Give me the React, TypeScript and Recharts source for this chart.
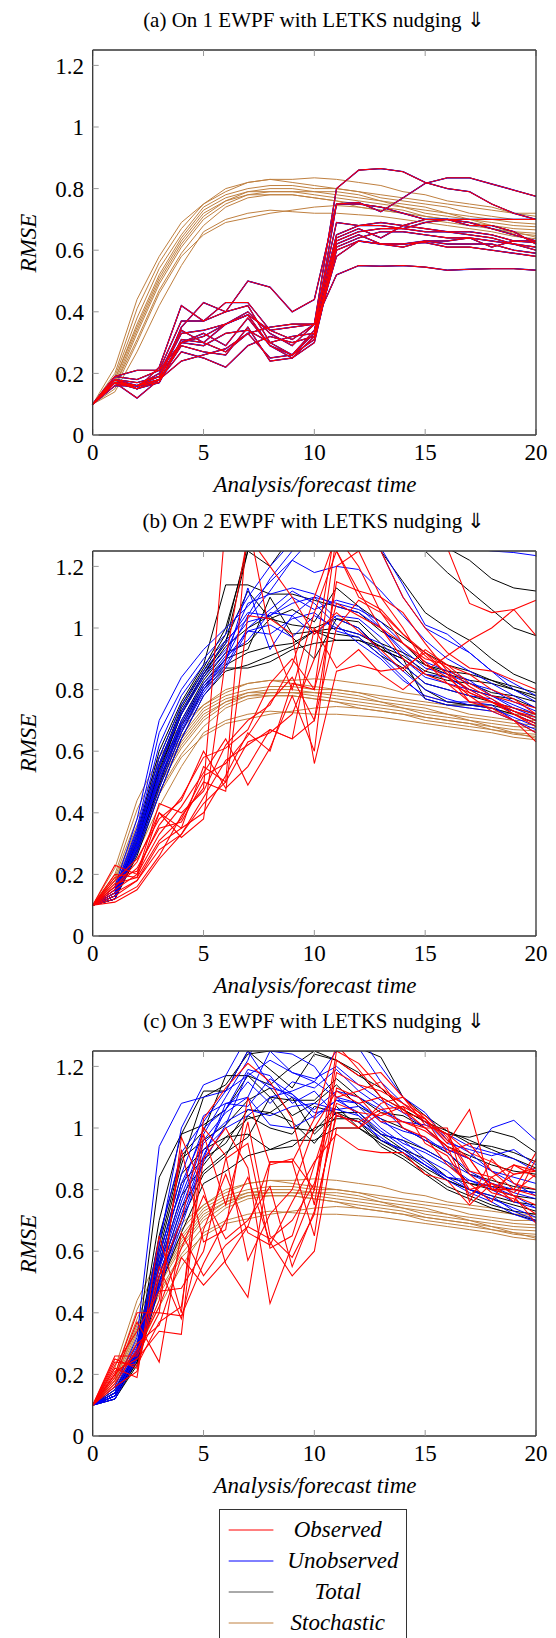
import React from 'react';
import { LineChart, Line, XAxis, YAxis } from 'recharts';

// analysis/forecast steps and axis ticks
const steps = [0, 1, 2, 3, 4, 5, 6, 7, 8, 9, 10, 11, 12, 13, 14, 15, 16, 17, 18, 19, 20];
const xTicks = [0, 5, 10, 15, 20];
const yTicks = [0, 0.2, 0.4, 0.6, 0.8, 1, 1.2];

// stochastic runs (same in every panel)
const stochastic = [
  [0.10, 0.22, 0.44, 0.58, 0.69, 0.75, 0.80, 0.82, 0.83, 0.82, 0.81, 0.80, 0.79, 0.78, 0.77, 0.76, 0.75, 0.74, 0.73, 0.72, 0.72],
  [0.10, 0.20, 0.41, 0.56, 0.67, 0.75, 0.79, 0.82, 0.83, 0.83, 0.835, 0.83, 0.82, 0.81, 0.79, 0.78, 0.76, 0.75, 0.74, 0.72, 0.71],
  [0.10, 0.19, 0.38, 0.54, 0.65, 0.74, 0.78, 0.80, 0.81, 0.81, 0.80, 0.80, 0.79, 0.77, 0.76, 0.75, 0.74, 0.72, 0.71, 0.70, 0.70],
  [0.10, 0.18, 0.36, 0.52, 0.64, 0.73, 0.77, 0.79, 0.80, 0.80, 0.79, 0.79, 0.78, 0.76, 0.75, 0.74, 0.72, 0.71, 0.70, 0.69, 0.685],
  [0.10, 0.18, 0.35, 0.51, 0.63, 0.72, 0.76, 0.79, 0.79, 0.79, 0.79, 0.78, 0.77, 0.76, 0.74, 0.73, 0.72, 0.70, 0.69, 0.68, 0.676],
  [0.10, 0.17, 0.34, 0.50, 0.62, 0.71, 0.76, 0.78, 0.79, 0.79, 0.78, 0.77, 0.76, 0.75, 0.74, 0.72, 0.71, 0.70, 0.68, 0.67, 0.666],
  [0.10, 0.16, 0.33, 0.49, 0.61, 0.70, 0.75, 0.78, 0.78, 0.78, 0.77, 0.76, 0.75, 0.74, 0.73, 0.71, 0.70, 0.69, 0.67, 0.66, 0.655],
  [0.10, 0.16, 0.31, 0.47, 0.59, 0.68, 0.74, 0.77, 0.78, 0.78, 0.77, 0.76, 0.74, 0.73, 0.72, 0.70, 0.69, 0.68, 0.67, 0.655, 0.648],
  [0.10, 0.15, 0.30, 0.46, 0.58, 0.65, 0.69, 0.705, 0.72, 0.73, 0.74, 0.745, 0.74, 0.73, 0.72, 0.71, 0.70, 0.69, 0.68, 0.66, 0.642],
  [0.10, 0.14, 0.27, 0.42, 0.55, 0.66, 0.70, 0.72, 0.73, 0.725, 0.72, 0.72, 0.715, 0.71, 0.70, 0.69, 0.68, 0.67, 0.66, 0.645, 0.637],
];

// (a) observed / unobserved / total coincide
const errA = [
  [0.10, 0.18, 0.15, 0.22, 0.42, 0.37, 0.43, 0.43, 0.34, 0.31, 0.36, 0.80, 0.86, 0.865, 0.855, 0.82, 0.80, 0.79, 0.75, 0.72, 0.70],
  [0.10, 0.19, 0.21, 0.21, 0.37, 0.37, 0.40, 0.50, 0.48, 0.40, 0.44, 0.75, 0.755, 0.725, 0.77, 0.817, 0.835, 0.835, 0.815, 0.795, 0.775],
  [0.10, 0.17, 0.16, 0.18, 0.35, 0.43, 0.40, 0.42, 0.30, 0.26, 0.33, 0.75, 0.75, 0.74, 0.72, 0.70, 0.70, 0.70, 0.70, 0.70, 0.70],
  [0.10, 0.18, 0.17, 0.19, 0.33, 0.34, 0.36, 0.39, 0.34, 0.35, 0.36, 0.69, 0.68, 0.69, 0.68, 0.67, 0.66, 0.66, 0.65, 0.63, 0.63],
  [0.10, 0.17, 0.16, 0.17, 0.31, 0.30, 0.27, 0.33, 0.35, 0.36, 0.36, 0.65, 0.68, 0.68, 0.67, 0.69, 0.70, 0.69, 0.67, 0.65, 0.63],
  [0.10, 0.18, 0.16, 0.19, 0.30, 0.33, 0.29, 0.38, 0.29, 0.26, 0.34, 0.64, 0.67, 0.64, 0.68, 0.70, 0.70, 0.68, 0.68, 0.66, 0.62],
  [0.10, 0.17, 0.15, 0.18, 0.29, 0.27, 0.26, 0.35, 0.24, 0.25, 0.32, 0.63, 0.66, 0.67, 0.67, 0.66, 0.66, 0.65, 0.64, 0.62, 0.61],
  [0.10, 0.16, 0.16, 0.18, 0.27, 0.25, 0.22, 0.29, 0.32, 0.30, 0.32, 0.62, 0.65, 0.62, 0.62, 0.63, 0.62, 0.62, 0.62, 0.60, 0.59],
  [0.10, 0.17, 0.12, 0.18, 0.24, 0.26, 0.28, 0.33, 0.25, 0.26, 0.31, 0.60, 0.63, 0.62, 0.61, 0.63, 0.63, 0.64, 0.63, 0.62, 0.60],
  [0.10, 0.18, 0.15, 0.17, 0.30, 0.29, 0.33, 0.34, 0.30, 0.32, 0.33, 0.58, 0.63, 0.62, 0.62, 0.625, 0.61, 0.61, 0.60, 0.59, 0.58],
  [0.10, 0.17, 0.16, 0.20, 0.34, 0.30, 0.36, 0.40, 0.33, 0.29, 0.36, 0.52, 0.55, 0.548, 0.55, 0.545, 0.535, 0.538, 0.54, 0.54, 0.535],
  [0.10, 0.19, 0.18, 0.21, 0.30, 0.32, 0.36, 0.39, 0.29, 0.25, 0.30, 0.61, 0.64, 0.66, 0.66, 0.65, 0.64, 0.64, 0.61, 0.63, 0.625],
];

// (b)
const obsB = [
  [0.10, 0.23, 0.20, 0.43, 0.40, 0.47, 0.62, 0.70, 0.75, 0.88, 1.10, 1.30, 1.35, 1.25, 1.10, 1.00, 0.92, 0.87, 0.86, 0.83, 0.80],
  [0.10, 0.20, 0.19, 0.40, 0.35, 0.55, 0.50, 1.35, 0.98, 0.80, 1.05, 1.25, 1.12, 1.00, 0.95, 0.90, 0.88, 0.85, 0.80, 0.77, 0.72],
  [0.10, 0.18, 0.25, 0.38, 0.44, 0.60, 0.48, 0.55, 0.67, 0.64, 0.70, 1.00, 1.09, 1.05, 0.98, 0.91, 0.85, 0.80, 0.76, 0.73, 0.70],
  [0.10, 0.16, 0.22, 0.35, 0.37, 0.50, 0.47, 1.04, 1.03, 0.98, 0.56, 0.86, 0.88, 0.86, 0.87, 0.92, 0.85, 0.76, 0.76, 0.72, 0.68],
  [0.10, 0.15, 0.20, 0.33, 0.42, 0.53, 0.64, 0.49, 0.61, 0.78, 0.60, 1.20, 1.25, 1.10, 1.00, 0.88, 0.84, 0.78, 0.73, 0.70, 0.66],
  [0.10, 0.14, 0.18, 0.30, 0.35, 0.40, 0.52, 0.66, 0.60, 0.82, 0.80, 1.30, 1.20, 1.05, 0.95, 0.89, 0.82, 0.76, 0.74, 0.70, 0.63],
  [0.10, 0.13, 0.18, 0.28, 0.33, 0.45, 0.57, 0.62, 0.67, 0.64, 1.00, 0.87, 0.93, 0.85, 0.80, 0.86, 0.91, 0.96, 1.00, 1.06, 1.09],
  [0.10, 0.12, 0.16, 0.26, 0.39, 0.48, 1.35, 1.30, 1.20, 1.10, 0.98, 1.05, 0.99, 0.93, 0.86, 0.93, 0.88, 0.82, 0.78, 0.76, 0.74],
  [0.10, 0.11, 0.15, 0.25, 0.33, 0.43, 0.50, 0.63, 0.66, 0.72, 0.90, 1.35, 1.40, 1.35, 1.30, 1.28, 1.26, 1.08, 1.05, 1.06, 0.975],
  [0.10, 0.16, 0.24, 0.40, 0.32, 0.38, 0.90, 1.30, 1.35, 1.30, 1.35, 1.25, 1.10, 1.06, 0.98, 0.92, 0.87, 0.81, 0.77, 0.73, 0.71],
  [0.10, 0.19, 0.21, 0.36, 0.45, 0.58, 0.61, 0.67, 0.82, 0.90, 0.80, 1.08, 1.04, 1.00, 0.90, 0.85, 0.82, 0.79, 0.76, 0.72, 0.69],
  [0.10, 0.17, 0.19, 0.31, 0.38, 0.52, 0.56, 0.65, 0.76, 0.84, 0.70, 1.15, 1.12, 1.10, 1.05, 0.95, 0.86, 0.79, 0.76, 0.74, 0.72],
];
const unobsB = [
  [0.10, 0.16, 0.38, 0.70, 0.84, 0.93, 1.00, 1.07, 1.15, 1.22, 1.30, 1.33, 1.32, 1.30, 1.28, 1.27, 1.26, 1.26, 1.25, 1.245, 1.235],
  [0.10, 0.15, 0.35, 0.66, 0.80, 0.90, 0.98, 1.10, 1.20, 1.28, 1.35, 1.36, 1.32, 1.26, 1.14, 1.01, 0.98, 0.92, 0.86, 0.80, 0.76],
  [0.10, 0.15, 0.34, 0.62, 0.78, 0.88, 0.96, 1.03, 1.12, 1.22, 1.18, 1.20, 1.19, 1.12, 1.04, 0.96, 0.90, 0.86, 0.82, 0.78, 0.74],
  [0.10, 0.14, 0.33, 0.58, 0.75, 0.86, 0.95, 1.05, 1.04, 1.08, 1.10, 1.08, 1.06, 1.02, 0.95, 0.89, 0.86, 0.83, 0.78, 0.75, 0.72],
  [0.10, 0.14, 0.32, 0.56, 0.73, 0.85, 0.93, 1.02, 1.04, 1.10, 1.06, 1.09, 1.07, 1.00, 0.93, 0.87, 0.85, 0.82, 0.80, 0.76, 0.73],
  [0.10, 0.14, 0.31, 0.55, 0.72, 0.84, 0.92, 1.08, 1.11, 1.13, 1.11, 1.07, 1.05, 1.00, 0.92, 0.85, 0.84, 0.80, 0.78, 0.74, 0.71],
  [0.10, 0.13, 0.30, 0.53, 0.70, 0.82, 0.91, 0.96, 1.05, 1.04, 0.98, 1.04, 1.03, 0.97, 0.90, 0.84, 0.82, 0.80, 0.76, 0.73, 0.70],
  [0.10, 0.13, 0.30, 0.52, 0.69, 0.81, 0.90, 0.99, 1.01, 0.97, 1.04, 1.00, 0.98, 0.95, 0.88, 0.82, 0.80, 0.78, 0.77, 0.72, 0.69],
  [0.10, 0.13, 0.29, 0.50, 0.67, 0.80, 0.89, 1.13, 0.93, 1.04, 1.10, 1.03, 1.00, 0.92, 0.86, 0.80, 0.77, 0.75, 0.74, 0.71, 0.68],
  [0.10, 0.12, 0.28, 0.48, 0.66, 0.79, 0.88, 1.00, 1.06, 1.12, 1.08, 1.01, 0.95, 0.90, 0.83, 0.78, 0.76, 0.76, 0.75, 0.70, 0.67],
  [0.10, 0.13, 0.29, 0.51, 0.68, 0.80, 0.90, 1.04, 1.16, 1.25, 1.40, 1.40, 1.35, 1.25, 1.10, 1.00, 0.96, 0.92, 0.86, 0.82, 0.78],
  [0.10, 0.12, 0.27, 0.46, 0.64, 0.78, 0.87, 0.99, 0.98, 1.03, 1.05, 0.99, 0.97, 0.91, 0.84, 0.77, 0.75, 0.74, 0.73, 0.70, 0.66],
];
const totalB = [
  [0.10, 0.14, 0.33, 0.60, 0.76, 0.88, 1.14, 1.14, 1.11, 1.11, 1.09, 1.07, 1.05, 0.99, 0.95, 0.88, 0.85, 0.83, 0.82, 0.80, 0.78],
  [0.10, 0.14, 0.32, 0.58, 0.75, 0.87, 1.00, 1.25, 1.20, 1.30, 1.40, 1.42, 1.40, 1.36, 1.32, 1.28, 1.26, 1.22, 1.16, 1.13, 1.12],
  [0.10, 0.13, 0.31, 0.56, 0.74, 0.86, 0.98, 1.27, 1.35, 1.40, 1.38, 1.35, 1.33, 1.30, 1.28, 1.25, 1.18, 1.12, 1.06, 1.00, 0.975],
  [0.10, 0.13, 0.30, 0.55, 0.73, 0.85, 0.96, 1.12, 1.03, 1.06, 1.02, 1.13, 1.07, 1.02, 0.97, 0.92, 0.88, 0.86, 0.83, 0.81, 0.79],
  [0.10, 0.13, 0.30, 0.53, 0.72, 0.84, 0.94, 1.00, 1.04, 0.97, 0.90, 1.03, 1.02, 0.95, 0.92, 0.88, 0.86, 0.85, 0.83, 0.80, 0.77],
  [0.10, 0.13, 0.29, 0.52, 0.70, 0.83, 0.92, 0.95, 1.03, 1.01, 1.00, 1.03, 1.00, 0.93, 0.90, 0.85, 0.83, 0.82, 0.79, 0.78, 0.76],
  [0.10, 0.12, 0.28, 0.50, 0.69, 0.82, 0.90, 0.93, 1.10, 0.98, 0.99, 0.96, 0.96, 0.94, 0.91, 0.86, 0.84, 0.80, 0.78, 0.77, 0.74],
  [0.10, 0.12, 0.28, 0.49, 0.68, 0.81, 0.88, 0.92, 0.94, 0.95, 0.99, 1.00, 0.98, 0.94, 0.88, 0.82, 0.80, 0.78, 0.76, 0.74, 0.72],
  [0.10, 0.12, 0.27, 0.48, 0.66, 0.80, 0.87, 0.87, 0.89, 0.93, 0.95, 0.96, 0.96, 0.93, 0.90, 0.77, 0.75, 0.75, 0.75, 0.73, 0.70],
  [0.10, 0.12, 0.26, 0.46, 0.64, 0.78, 0.86, 0.88, 0.91, 0.94, 0.99, 0.98, 0.97, 0.91, 0.87, 0.80, 0.76, 0.75, 0.74, 0.72, 0.69],
  [0.10, 0.13, 0.30, 0.54, 0.72, 0.85, 0.95, 1.25, 1.35, 1.40, 1.45, 1.40, 1.35, 1.25, 1.15, 1.05, 1.00, 0.96, 0.90, 0.85, 0.82],
];

// (c)
const obsC = [
  [0.10, 0.26, 0.26, 0.40, 0.97, 0.80, 0.56, 0.45, 0.89, 0.89, 1.03, 1.27, 1.19, 1.10, 1.06, 1.00, 0.94, 0.90, 0.80, 0.80, 0.92],
  [0.10, 0.22, 0.19, 0.65, 0.40, 1.03, 1.13, 1.21, 1.15, 1.03, 0.75, 1.22, 1.17, 1.18, 1.10, 1.03, 0.95, 1.06, 0.80, 0.85, 0.87],
  [0.10, 0.24, 0.23, 0.37, 0.42, 0.90, 1.00, 0.87, 0.43, 0.62, 0.80, 1.25, 1.21, 1.13, 1.08, 1.02, 0.98, 0.92, 0.89, 0.85, 0.86],
  [0.10, 0.20, 0.40, 0.40, 0.39, 0.56, 0.70, 0.84, 0.63, 0.52, 0.60, 1.00, 1.00, 1.08, 1.10, 1.01, 0.98, 0.86, 0.84, 0.88, 0.84],
  [0.10, 0.19, 0.37, 0.24, 0.66, 0.52, 0.62, 0.68, 0.64, 0.70, 0.82, 1.08, 1.05, 1.04, 1.07, 1.03, 0.96, 0.90, 0.80, 0.78, 0.75],
  [0.10, 0.21, 0.25, 0.34, 0.33, 0.98, 0.75, 1.02, 0.65, 0.58, 0.72, 1.05, 1.00, 1.05, 1.02, 0.99, 0.94, 0.78, 0.84, 0.78, 0.69],
  [0.10, 0.18, 0.30, 0.36, 0.58, 0.49, 0.57, 0.68, 0.89, 0.89, 0.65, 1.13, 1.10, 1.02, 1.02, 1.00, 1.00, 0.76, 0.90, 0.82, 0.80],
  [0.10, 0.25, 0.22, 0.55, 0.38, 0.67, 0.85, 0.66, 0.62, 0.76, 0.89, 0.98, 0.93, 0.92, 0.92, 0.85, 0.83, 0.75, 0.82, 0.79, 0.85],
  [0.10, 0.17, 0.28, 0.42, 0.61, 0.78, 0.64, 0.70, 0.81, 0.55, 0.73, 1.04, 1.02, 1.06, 1.07, 0.95, 0.91, 0.80, 0.82, 0.76, 0.90],
  [0.10, 0.23, 0.34, 0.47, 0.48, 0.60, 0.90, 0.95, 0.61, 0.65, 0.88, 1.10, 1.12, 1.15, 1.05, 1.03, 0.92, 0.95, 0.86, 0.80, 0.78],
  [0.10, 0.16, 0.21, 0.52, 0.70, 1.00, 0.91, 0.57, 0.72, 0.80, 1.00, 1.12, 1.08, 1.10, 1.00, 0.97, 0.88, 0.82, 0.76, 0.88, 0.86],
  [0.10, 0.20, 0.27, 0.44, 0.93, 0.63, 0.67, 1.10, 0.88, 0.90, 0.80, 1.18, 1.14, 1.12, 1.08, 1.04, 0.97, 0.85, 0.79, 0.77, 0.72],
];
const unobsC = [
  [0.10, 0.16, 0.32, 0.94, 1.08, 1.10, 1.12, 1.17, 1.22, 1.18, 1.16, 1.20, 1.14, 1.09, 1.05, 1.00, 0.93, 0.90, 1.00, 1.025, 0.96],
  [0.10, 0.15, 0.30, 0.62, 1.00, 1.14, 1.17, 1.30, 1.25, 1.18, 1.15, 1.25, 1.26, 1.15, 1.08, 1.02, 0.95, 0.93, 0.91, 0.93, 0.88],
  [0.10, 0.14, 0.29, 0.64, 0.92, 1.02, 1.12, 1.25, 1.14, 1.10, 1.06, 1.12, 1.10, 1.06, 1.02, 1.01, 0.98, 0.94, 0.92, 0.90, 0.86],
  [0.10, 0.14, 0.28, 0.60, 0.80, 1.00, 1.06, 1.15, 1.08, 1.15, 1.13, 1.19, 1.12, 1.07, 1.00, 0.96, 0.93, 0.90, 0.86, 0.84, 0.82],
  [0.10, 0.14, 0.28, 0.58, 0.85, 1.04, 1.08, 1.10, 1.01, 1.00, 1.04, 1.09, 1.08, 1.02, 0.99, 0.97, 0.92, 0.86, 0.82, 0.80, 0.79],
  [0.10, 0.13, 0.27, 0.55, 0.78, 0.96, 1.05, 1.10, 1.25, 1.24, 1.20, 1.10, 1.08, 1.03, 0.97, 0.93, 0.89, 0.85, 0.82, 0.79, 0.77],
  [0.10, 0.13, 0.27, 0.54, 0.76, 0.95, 1.02, 1.06, 1.04, 1.07, 1.08, 1.06, 1.07, 1.00, 0.95, 0.92, 0.88, 0.83, 0.80, 0.76, 0.74],
  [0.10, 0.13, 0.26, 0.52, 0.74, 0.93, 1.00, 1.04, 1.10, 1.12, 1.15, 1.10, 1.04, 0.98, 0.96, 0.90, 0.86, 0.80, 0.77, 0.74, 0.71],
  [0.10, 0.13, 0.26, 0.50, 0.72, 0.91, 1.06, 1.19, 1.17, 1.08, 1.12, 1.04, 1.02, 0.97, 0.92, 0.88, 0.83, 0.79, 0.76, 0.72, 0.695],
  [0.10, 0.12, 0.25, 0.49, 0.70, 0.90, 1.08, 1.07, 1.16, 1.11, 1.03, 1.09, 1.05, 0.99, 0.94, 0.89, 0.84, 0.80, 0.78, 0.73, 0.70],
  [0.10, 0.13, 0.27, 0.56, 0.82, 0.98, 1.10, 1.22, 1.40, 1.38, 1.35, 1.35, 1.30, 1.20, 1.10, 1.05, 0.96, 0.92, 0.86, 0.82, 0.78],
  [0.10, 0.12, 0.25, 0.48, 0.68, 0.89, 1.01, 1.18, 1.13, 1.11, 1.05, 1.06, 1.04, 0.96, 0.93, 0.88, 0.84, 0.83, 0.81, 0.78, 0.74],
];
const totalC = [
  [0.10, 0.15, 0.28, 0.84, 0.98, 1.12, 1.12, 1.25, 1.19, 1.13, 1.24, 1.22, 1.18, 1.10, 1.06, 1.02, 0.98, 0.97, 0.99, 0.97, 0.92],
  [0.10, 0.14, 0.27, 0.70, 0.98, 1.01, 1.06, 1.17, 1.14, 1.20, 1.25, 1.22, 1.17, 1.13, 1.06, 1.02, 0.99, 0.95, 0.94, 0.92, 0.89],
  [0.10, 0.14, 0.27, 0.65, 0.91, 0.99, 1.17, 1.17, 1.10, 1.09, 1.09, 1.16, 1.10, 1.05, 1.04, 1.00, 0.94, 0.91, 0.88, 0.86, 0.85],
  [0.10, 0.14, 0.26, 0.62, 0.90, 0.96, 1.01, 1.09, 1.13, 1.04, 1.08, 1.14, 1.07, 1.03, 1.00, 0.96, 0.92, 0.85, 0.83, 0.81, 0.80],
  [0.10, 0.13, 0.26, 0.58, 0.85, 0.93, 0.97, 1.03, 1.05, 1.10, 0.98, 1.05, 1.05, 0.98, 0.96, 0.93, 0.89, 0.82, 0.81, 0.80, 0.79],
  [0.10, 0.13, 0.25, 0.56, 0.82, 0.90, 0.95, 1.06, 1.05, 1.02, 0.95, 1.04, 1.02, 0.96, 0.93, 0.90, 0.84, 0.82, 0.80, 0.78, 0.77],
  [0.10, 0.13, 0.25, 0.55, 0.78, 0.88, 0.97, 0.98, 0.93, 0.94, 1.00, 1.03, 1.03, 0.98, 0.93, 0.88, 0.83, 0.80, 0.77, 0.75, 0.73],
  [0.10, 0.13, 0.24, 0.52, 0.74, 0.86, 0.92, 0.97, 1.10, 1.00, 0.99, 1.07, 1.00, 0.95, 0.91, 0.86, 0.81, 0.78, 0.75, 0.73, 0.72],
  [0.10, 0.12, 0.24, 0.50, 0.70, 0.85, 0.91, 1.04, 1.00, 0.98, 1.07, 1.05, 1.02, 0.94, 0.90, 0.85, 0.80, 0.77, 0.74, 0.72, 0.70],
  [0.10, 0.12, 0.23, 0.48, 0.66, 0.82, 0.86, 0.91, 0.93, 0.96, 0.96, 1.00, 1.00, 0.96, 0.92, 0.87, 0.83, 0.80, 0.78, 0.76, 0.75],
  [0.10, 0.13, 0.26, 0.60, 0.88, 1.10, 1.14, 1.24, 1.25, 1.25, 1.25, 1.27, 1.26, 1.23, 1.10, 1.04, 0.99, 0.96, 0.93, 0.90, 0.87],
];

const legendItems = ['Observed', 'Unobserved', 'Total', 'Stochastic'];
const colors = { obs: '#ff0000', unobs: '#0000ff', total: '#000000', stoch: '#bf8040' };
const legendColors = [colors.obs, colors.unobs, '#555555', colors.stoch];

const serif = '"Liberation Serif", serif';
const tickFont = { fontSize: 23, fill: '#000', fontFamily: serif };

const EmptyTick = () => <g />;

function buildRows(groups: Record<string, number[][]>) {
  return steps.map((t, i) => {
    const row: Record<string, number> = { t };
    Object.keys(groups).forEach((k) => {
      groups[k].forEach((line, j) => {
        row[`${k}${j}`] = line[i];
      });
    });
    return row;
  });
}

interface PanelProps {
  top: number;
  title: string;
  obs: number[][];
  unobs: number[][];
  total: number[][];
  under?: number;
}

const Panel: React.FC<PanelProps> = ({ top, title, obs, unobs, total, under = 1 }) => {
  const rows = buildRows({ s: stochastic, k: total, u: unobs, o: obs });
  const series = (key: string, lines: number[][], color: string, width: number) =>
    lines.map((_, j) => (
      <Line
        key={`${key}${j}`}
        type="linear"
        dataKey={`${key}${j}`}
        stroke={color}
        strokeWidth={width}
        dot={false}
        activeDot={false}
        isAnimationActive={false}
      />
    ));
  return (
    <div style={{ position: 'absolute', left: 0, top, width: 556, height: 500 }}>
      <div style={{ position: 'absolute', left: 0, top: 7, width: 628, textAlign: 'center', fontSize: 21, lineHeight: '26px', fontFamily: serif }}>
        {title}
      </div>
      <LineChart width={556} height={500} data={rows} margin={{ top: 49, right: 19, left: 0, bottom: 35 }}>
        <XAxis
          dataKey="t"
          type="number"
          domain={[0, 20]}
          ticks={xTicks}
          height={30}
          tickSize={-6}
          tickMargin={14.4}
          interval={0}
          tick={tickFont}
          axisLine={{ stroke: '#333', strokeWidth: 1.3 }}
          tickLine={{ stroke: '#999' }}
        />
        <XAxis
          xAxisId="top"
          orientation="top"
          dataKey="t"
          type="number"
          domain={[0, 20]}
          ticks={xTicks}
          height={1}
          tickSize={-6}
          tick={EmptyTick}
          axisLine={{ stroke: '#333', strokeWidth: 1.3 }}
          tickLine={{ stroke: '#999' }}
        />
        <YAxis
          type="number"
          domain={[0, 1.25]}
          ticks={yTicks}
          allowDataOverflow
          width={92.7}
          tickSize={-6}
          tickMargin={14.7}
          interval={0}
          tick={tickFont}
          axisLine={{ stroke: '#333', strokeWidth: 1.3 }}
          tickLine={{ stroke: '#999' }}
        />
        <YAxis
          yAxisId="right"
          orientation="right"
          type="number"
          domain={[0, 1.25]}
          ticks={yTicks}
          width={1}
          tickSize={-6}
          tick={EmptyTick}
          axisLine={{ stroke: '#333', strokeWidth: 1.3 }}
          tickLine={{ stroke: '#999' }}
        />
        {series('s', stochastic, colors.stoch, 1)}
        {series('k', total, colors.total, 1)}
        {series('u', unobs, colors.unobs, under)}
        {series('o', obs, colors.obs, 1.05)}
      </LineChart>
      <div style={{ position: 'absolute', left: 0, top: 470, width: 630, textAlign: 'center', fontSize: 23, lineHeight: '30px', fontStyle: 'italic', fontFamily: serif }}>
        Analysis/forecast time
      </div>
      <div
        style={{
          position: 'absolute',
          left: 29 - 50,
          top: 242.5 - 15,
          width: 100,
          height: 30,
          lineHeight: '30px',
          textAlign: 'center',
          fontSize: 23,
          fontStyle: 'italic',
          fontFamily: serif,
          transform: 'rotate(-90deg)',
        }}
      >
        RMSE
      </div>
    </div>
  );
};

const App: React.FC = () => {
  return (
    <div style={{ position: 'relative', width: 556, height: 1638, overflow: 'hidden', background: '#fff' }}>
      <style>{'body{margin:0}'}</style>
      <Panel top={0} title="(a) On 1 EWPF with LETKS nudging ⇓" obs={errA} unobs={errA} total={errA} under={1.35} />
      <Panel top={500.7} title="(b) On 2 EWPF with LETKS nudging ⇓" obs={obsB} unobs={unobsB} total={totalB} />
      <Panel top={1001} title="(c) On 3 EWPF with LETKS nudging ⇓" obs={obsC} unobs={unobsC} total={totalC} />
      <div style={{ position: 'absolute', left: 219.3, top: 1509.3, width: 188, height: 140, border: '1px solid #333', boxSizing: 'border-box' }}>
        {legendItems.map((name, i) => (
          <div key={name} style={{ position: 'absolute', left: 0, top: 20 + i * 31 - 15, width: 188, height: 30 }}>
            <svg width={60} height={30} style={{ position: 'absolute', left: 0, top: 0 }}>
              <line x1={8.7} x2={53.4} y1={15} y2={15} stroke={legendColors[i]} strokeWidth={1} />
            </svg>
            <div style={{ position: 'absolute', left: 67, width: 101, top: 0, lineHeight: '30px', textAlign: 'center', fontSize: 23, fontStyle: 'italic', fontFamily: serif }}>
              {name}
            </div>
          </div>
        ))}
      </div>
    </div>
  );
};

export default App;
